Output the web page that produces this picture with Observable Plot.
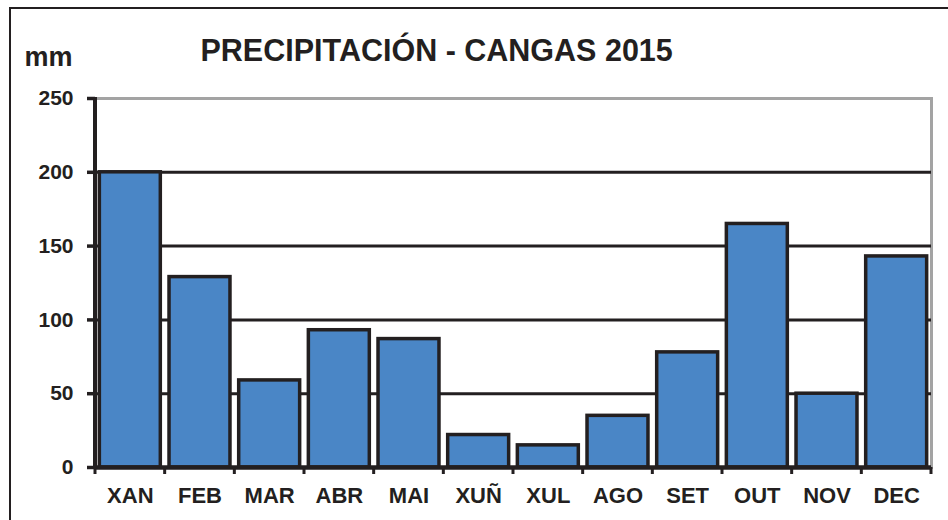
<!DOCTYPE html>
<html>
<head>
<meta charset="utf-8">
<script src="https://cdn.jsdelivr.net/npm/d3@7"></script>
<script src="https://cdn.jsdelivr.net/npm/@observablehq/plot@0.6"></script>
<style>
  html, body { margin: 0; padding: 0; background: #fff; }
  #wrap { position: relative; width: 948px; height: 520px; overflow: hidden; }
  #border { position: absolute; left: 9px; top: 7px; width: 1000px; height: 600px;
            border-left: 2.5px solid #231f20; border-top: 2.5px solid #231f20; }
  #chart { position: absolute; left: 0; top: 0; }
</style>
</head>
<body>
<div id="wrap"><div id="border"></div><div id="chart"></div></div>
<script>
const title = "PRECIPITACIÓN - CANGAS 2015";
const unitLabel = "mm";
const months = ["XAN", "FEB", "MAR", "ABR", "MAI", "XUÑ", "XUL", "AGO", "SET", "OUT", "NOV", "DEC"];
const precip = [200, 129, 59, 93, 87, 22, 15, 35, 78, 165, 50, 143];
const yTicks = [0, 50, 100, 150, 200, 250];
const gridValues = [50, 100, 150, 200];

const ink = "#231f20";
const barFill = "#4a86c6";
const frameGray = "#a3a3a3";
const pad = 0.125;

const data = months.map((m, i) => ({month: m, mm: precip[i]}));

// Left axis line and category-boundary ticks, derived from the scales
function axisDecor(index, scales, values, dims) {
  const x = scales.x;
  const step = x(months[1]) - x(months[0]);
  const top = dims.marginTop;
  const bottom = dims.height - dims.marginBottom;
  const left = dims.marginLeft;
  const g = d3.create("svg:g").attr("stroke", ink);
  g.append("line")
    .attr("x1", left).attr("x2", left)
    .attr("y1", top - 1).attr("y2", bottom + 2)
    .attr("stroke-width", 4);
  const bounds = months.map(m => x(m) - step * pad / 2);
  bounds.push(x(months[months.length - 1]) + step * (1 - pad) + step * pad / 2);
  for (const b of bounds) {
    g.append("line")
      .attr("x1", b).attr("x2", b)
      .attr("y1", bottom).attr("y2", bottom + 7)
      .attr("stroke-width", 3);
  }
  return g.node();
}

const chart = Plot.plot({
  width: 948,
  height: 520,
  marginTop: 98,
  marginBottom: 53,
  marginLeft: 95,
  marginRight: 17,
  style: {fontFamily: "'Liberation Sans', Arial, sans-serif", background: "transparent", color: ink, overflow: "visible"},
  x: {domain: months, paddingInner: pad, paddingOuter: pad / 2, round: false, axis: null},
  y: {domain: [0, 250], axis: null},
  marks: [
    Plot.frame({stroke: frameGray, strokeWidth: 3}),
    Plot.ruleY(gridValues, {stroke: ink, strokeWidth: 3}),
    Plot.barY(data, {x: "month", y: "mm", fill: barFill, stroke: ink, strokeWidth: 3.5}),
    Plot.ruleY([0], {stroke: ink, strokeWidth: 4.5}),
    axisDecor,
    Plot.axisY(yTicks, {tickSize: 8, tickPadding: 14, stroke: ink, strokeWidth: 3.5,
      fill: ink, fontSize: 21, fontWeight: "bold", label: null}),
    Plot.axisX({tickSize: 0, tickPadding: 20, fill: ink, fontSize: 22, fontWeight: "bold", label: null}),
    Plot.text([title], {text: d => d, frameAnchor: "top-left", dx: 105, dy: -38,
      textAnchor: "start", lineAnchor: "bottom", fontSize: 30.5, fontWeight: "bold", fill: ink}),
    Plot.text([unitLabel], {text: d => d, frameAnchor: "top-left", dx: -71, dy: -33,
      textAnchor: "start", lineAnchor: "bottom", fontSize: 27, fontWeight: "bold", fill: ink})
  ]
});
document.getElementById("chart").appendChild(chart);
</script>
</body>
</html>
